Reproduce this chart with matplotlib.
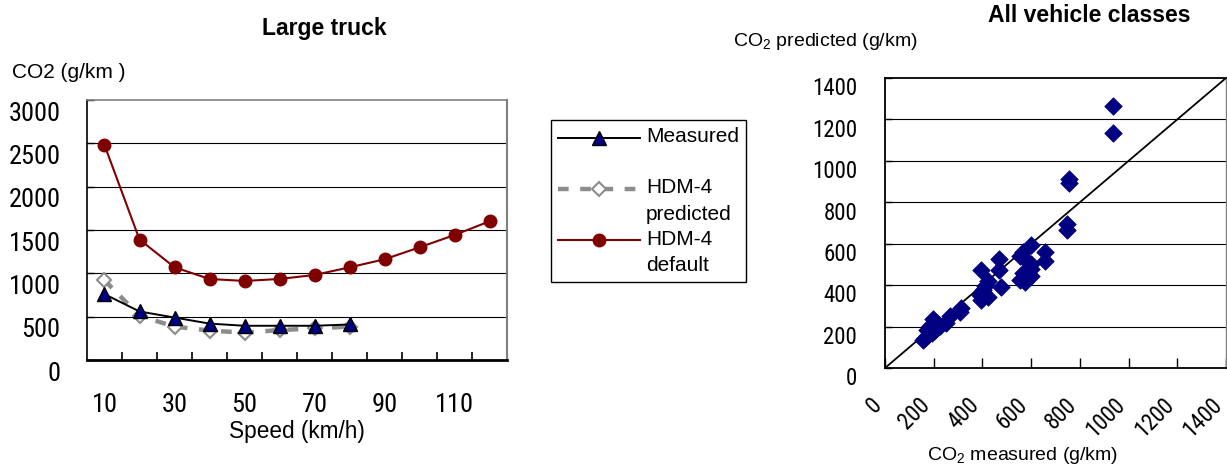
import numpy as np
import matplotlib
matplotlib.use("Agg")
import matplotlib.pyplot as plt
from matplotlib.legend_handler import HandlerLine2D
from matplotlib.transforms import ScaledTranslation
from matplotlib.ticker import FixedLocator
import logging
logging.getLogger("matplotlib.font_manager").setLevel(logging.ERROR)

# ---------------- data ----------------
speeds = [10, 20, 30, 40, 50, 60, 70, 80, 90, 100, 110, 120]
default_co2 = [2480, 1390, 1070, 935, 912, 935, 981, 1069, 1162, 1300, 1442, 1600]
measured_speeds = [10, 20, 30, 40, 50, 60, 70, 80]
measured_co2 = [760, 560, 490, 420, 395, 395, 395, 410]
predicted_co2 = [920, 510, 385, 340, 315, 345, 365, 385]
speed_tick_labels = [10, 30, 50, 70, 90, 110]
speed_boundaries = [15, 25, 35, 45, 55, 65, 75, 85, 95, 105, 115]
co2_ticks = [0, 500, 1000, 1500, 2000, 2500, 3000]

all_measured = [935, 936, 755, 755, 747, 747, 601, 656, 656, 567, 553, 581, 601, 601,
                567, 553, 574, 601, 469, 469, 478, 396, 423, 403, 389, 423, 396, 410,
                314, 307, 266, 250, 198, 212, 184, 171, 191, 164, 157, 205, 178, 225]
all_predicted = [1263, 1134, 912, 893, 695, 665, 592, 558, 515, 558, 539, 515, 504, 478,
                 459, 426, 414, 443, 528, 475, 389, 472, 418, 378, 354, 343, 330, 394,
                 290, 269, 253, 217, 237, 217, 201, 182, 169, 145, 137, 185, 161, 201]
parity_line = [0, 1400]
scatter_ticks = [0, 200, 400, 600, 800, 1000, 1200, 1400]

# ---------------- style ----------------
plt.rcParams["font.family"] = ["Liberation Sans", "DejaVu Sans"]
plt.rcParams["mathtext.fontset"] = "custom"
plt.rcParams["mathtext.rm"] = "Liberation Sans"
plt.rcParams["mathtext.default"] = "regular"
narrow = ["Liberation Sans Narrow", "Arimo Narrow", "Roboto Condensed",
          "Archivo Narrow", "Liberation Sans"]

W, H, DPI = 1227, 466, 100
fig = plt.figure(figsize=(W / DPI, H / DPI), dpi=DPI)

def px(x0, y0, x1, y1):
    return [x0 / W, 1 - y1 / H, (x1 - x0) / W, (y1 - y0) / H]

MAROON = "#800000"
NAVY = "#000080"
GREY = "#8c8c8c"

# ---------------- left chart ----------------
ax = fig.add_axes(px(87, 100, 507, 360))
ax.set_xlim(5, 125)
ax.set_ylim(0, 3000)
for y in co2_ticks[1:-1]:
    ax.axhline(y, color="black", lw=0.8, zorder=1)

ax.plot(speeds, default_co2, color=MAROON, lw=1.5, marker="o", ms=9,
        mfc=MAROON, mec=MAROON, zorder=5, label="HDM-4\ndefault")
ax.plot(measured_speeds, predicted_co2, color=GREY, lw=3.2, dashes=(2.4, 2.6),
        marker="D", ms=7, mfc="white", mec=GREY, mew=1.5, zorder=3,
        label="HDM-4\npredicted")
ax.plot(measured_speeds, measured_co2, color="black", lw=1.4, marker="^", ms=9.5,
        mfc=NAVY, mec="black", mew=1.0, zorder=4, label="Measured\n ")

ax.xaxis.set_major_locator(FixedLocator(speed_tick_labels))
ax.set_xticklabels([str(v) for v in speed_tick_labels], fontsize=19, family=narrow)
ax.xaxis.set_minor_locator(FixedLocator(speed_boundaries))
ax.tick_params(axis="x", which="major", length=0, pad=24)
ax.tick_params(axis="x", which="minor", direction="in", length=6, width=1.2, color="black")
ax.set_yticks(co2_ticks)
ax.set_yticklabels([str(v) for v in co2_ticks], fontsize=19, family=narrow)
ax.tick_params(axis="y", direction="in", length=5, width=1, pad=19)
off = ScaledTranslation(0, -8 / 72, fig.dpi_scale_trans)
for lab in ax.get_yticklabels():
    lab.set_transform(lab.get_transform() + off)

ax.spines["left"].set_color("black")
ax.spines["left"].set_linewidth(1.2)
ax.spines["bottom"].set_color("black")
ax.spines["bottom"].set_linewidth(2.0)
ax.spines["top"].set_color("#7f7f7f")
ax.spines["top"].set_linewidth(1.2)
ax.spines["right"].set_color("#7f7f7f")
ax.spines["right"].set_linewidth(1.5)

ax.set_xlabel("Speed (km/h)", fontsize=16.3, labelpad=2)
fig.text(12 / W, 1 - 72 / H, "CO2 (g/km )", fontsize=15, ha="left", va="center")
fig.text(324 / W, 1 - 29 / H, "Large truck", fontsize=16.5, fontweight="bold",
         ha="center", va="center")


class UpHandler(HandlerLine2D):
    def __init__(self, dy, **kw):
        super().__init__(**kw)
        self.dy = dy

    def create_artists(self, legend, orig_handle, xdescent, ydescent, width, height,
                       fontsize, trans):
        arts = super().create_artists(legend, orig_handle, xdescent, ydescent, width,
                                      height, fontsize, trans)
        for a in arts:
            a.set_ydata(np.asarray(a.get_ydata(), float) + self.dy)
        return arts


handles, labels = ax.get_legend_handles_labels()
order = [2, 1, 0]
hmap = {h: UpHandler(9.0) for h in handles}
leg = ax.legend([handles[i] for i in order], [labels[i] for i in order],
                loc="upper left", bbox_to_anchor=(551 / W, 1 - 120 / H),
                bbox_transform=fig.transFigure, fontsize=15, frameon=True,
                fancybox=False, shadow=False, borderaxespad=0, borderpad=0.35,
                handlelength=3.9, handletextpad=0.3, labelspacing=0.27,
                handler_map=hmap, framealpha=1)
for t in leg.get_texts():
    t.set_linespacing(1.5)
leg.get_frame().set_edgecolor("black")
leg.get_frame().set_linewidth(1.0)

# ---------------- right chart ----------------
ax2 = fig.add_axes(px(885, 78, 1226, 368))
ax2.set_xlim(0, 1400)
ax2.set_ylim(0, 1400)
for y in scatter_ticks[1:-1]:
    ax2.axhline(y, color="black", lw=0.8, zorder=1)
ax2.plot(parity_line, parity_line, color="black", lw=1.3, zorder=2)
ax2.scatter(all_measured, all_predicted, marker="D", s=80, color=NAVY,
            edgecolors=NAVY, linewidths=0.5, zorder=3)

ax2.set_xticks(scatter_ticks)
ax2.set_xticklabels([str(v) for v in scatter_ticks], fontsize=16.5, family=narrow,
                    rotation=45, ha="right", va="top", rotation_mode="anchor")
ax2.tick_params(axis="x", direction="in", length=7, width=1.0, pad=18)
xoff = ScaledTranslation(-11 / 72, 0, fig.dpi_scale_trans)
for lab in ax2.get_xticklabels():
    lab.set_transform(lab.get_transform() + xoff)
ax2.set_yticks(scatter_ticks)
ax2.set_yticklabels([str(v) for v in scatter_ticks], fontsize=16.5, family=narrow)
ax2.tick_params(axis="y", direction="in", length=5, width=1.0, pad=20)
yoff = ScaledTranslation(0, -6 / 72, fig.dpi_scale_trans)
for lab in ax2.get_yticklabels():
    lab.set_transform(lab.get_transform() + yoff)
for s in ["left", "bottom", "top"]:
    ax2.spines[s].set_color("black")
    ax2.spines[s].set_linewidth(1.3)
ax2.spines["right"].set_color("#7f7f7f")
ax2.spines["right"].set_linewidth(1.0)

fig.text(1023 / W, 1 - 455 / H, "CO$_2$ measured (g/km)", fontsize=14,
         ha="center", va="center")
fig.text(733 / W, 1 - 42 / H, "CO$_2$ predicted (g/km)", fontsize=14,
         ha="left", va="center")
fig.text(1089 / W, 1 - 15 / H, "All vehicle classes", fontsize=16.5,
         fontweight="bold", ha="center", va="center")

fig.savefig("out.png", dpi=DPI)
